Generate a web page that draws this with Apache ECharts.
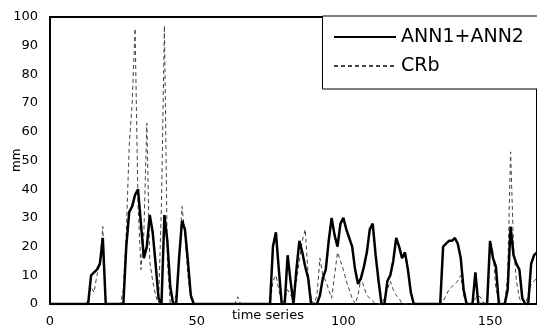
<!DOCTYPE html>
<html>
<head>
<meta charset="utf-8">
<script src="https://cdn.jsdelivr.net/npm/echarts@6/dist/echarts.min.js"></script>
<style>
  html, body { margin: 0; padding: 0; background: #fff; }
  #chartCover { width: 537px; height: 330px; }
</style>
</head>
<body>
<div id="chartCover"></div>
<script>
    // time series 0..166 (one value per step)
    var annValues = [
      0,0,0,0,0,0,0,0,0,0, 0,0,0,0,10,11,12,14,23,0,          // 0-19
      0,0,0,0,0,0,20,32,34,38, 40,28,16,20,31,25,14,2,0,31,   // 20-39
      22,6,0,0,16,29,26,15,3,0, 0,0,0,0,0,0,0,0,0,0,          // 40-59
      0,0,0,0,0,0,0,0,0,0, 0,0,0,0,0,0,20,25,12,0,            // 60-79
      0,17,8,0,12,22,18,13,9,0, 0,0,3,9,12,22,30,24,20,28,    // 80-99
      30,26,23,20,12,7,9,13,18,26, 28,17,8,0,0,8,10,15,23,20, // 100-119
      16,18,12,4,0,0,0,0,0,0, 0,0,0,0,20,21,22,22,23,21,      // 120-139
      16,5,0,0,0,11,0,0,0,0, 22,16,13,0,0,0,5,27,17,14,       // 140-159
      12,2,0,0,14,17,18                                       // 160-166
    ];
    var crbValues = [
      0,0,0,0,0,0,0,0,0,0, 0,0,0,1,6,4,10,14,27,0,            // 0-19
      0,0,0,0,0,5,25,55,70,96, 35,12,25,63,15,8,3,0,35,97,    // 20-39
      15,0,0,3,15,34,24,10,2,0, 0,0,0,0,0,0,0,0,0,0,          // 40-59
      0,0,0,0,2.5,0,0,0,0,0, 0,0,0,0,0,0,8,10,5,0,            // 60-79
      2,5,3,2,8,15,22,26,10,2, 0,3,16,10,8,5,2,10,18,15,      // 80-99
      12,8,5,2,0,3,9,6,3,2, 1,0,0,0,2,5,8,5,3,2,              // 100-119
      0,0,0,0,0,0,0,0,0,0, 0,0,0,0,1,3,5,6,7,8,               // 120-139
      10,3,0,0,0,2,3,2,0,0, 22,18,5,2,0,0,10,53,20,8,         // 140-159
      2,0,0,3,7,8,9                                           // 160-166
    ];
    var seriesNames = ['ANN1+ANN2', 'CRb'];
    var yTicks = [0, 10, 20, 30, 40, 50, 60, 70, 80, 90, 100];

    function toPairs(arr){
      return arr.map(function(v, i){ return [i, v]; });
    }

    var chartOption = {
      animation: false,
      textStyle: { fontFamily: 'DejaVu Sans' },
      grid: {
        left: 50, right: -3, top: 17, bottom: 26,
        show: true, borderColor: '#000', borderWidth: 2
      },
      xAxis: {
        type: 'value',
        min: 0, max: 166, interval: 50,
        axisLine: { lineStyle: { color: '#000', width: 2 } },
        axisTick: { show: false },
        splitLine: { show: false },
        axisLabel: { color: '#000', fontSize: 13, margin: 11, showMaxLabel: false }
      },
      yAxis: {
        type: 'value',
        min: yTicks[0], max: yTicks[yTicks.length - 1], interval: 10,
        axisLine: { show: true, lineStyle: { color: '#000', width: 2 } },
        axisTick: { show: false },
        splitLine: { show: false },
        axisLabel: { color: '#000', fontSize: 13, margin: 12 }
      },
      legend: {
        orient: 'vertical',
        left: 333, top: 27,
        padding: 0,
        itemWidth: 62, itemHeight: 14,
        itemGap: 9,
        z: 6,
        itemStyle: { opacity: 0 },
        textStyle: { color: '#000', fontSize: 19, lineHeight: 20, fontFamily: 'DejaVu Sans' },
        data: seriesNames
      },
      graphic: [
        {
          type: 'rect', z: 5,
          shape: { x: 322.5, y: 16, width: 230, height: 73 },
          style: { fill: '#fff', stroke: '#000', lineWidth: 1 }
        },
        {
          type: 'text', z: 5,
          x: 11, y: 172, rotation: Math.PI / 2,
          style: { text: 'mm', fill: '#000', font: '12px DejaVu Sans' }
        },
        {
          type: 'text', z: 5,
          x: 268, y: 316,
          style: { text: 'time series', fill: '#000', font: '13px DejaVu Sans', textAlign: 'center', textVerticalAlign: 'middle' }
        }
      ],
      series: [
        {
          name: seriesNames[0],
          type: 'line',
          data: toPairs(annValues),
          showSymbol: false, symbol: 'none',
          z: 3,
          lineStyle: { color: '#000', width: 2.5 },
          itemStyle: { color: '#000' }
        },
        {
          name: seriesNames[1],
          type: 'line',
          data: toPairs(crbValues),
          showSymbol: false, symbol: 'none',
          z: 2,
          lineStyle: { color: '#444', width: 1, type: [4, 3] },
          itemStyle: { color: '#444' }
        }
      ]
    };

    var myChart = echarts.init(document.getElementById('chartCover'));
    chartOption && myChart.setOption(chartOption, true);
</script>
</body>
</html>
